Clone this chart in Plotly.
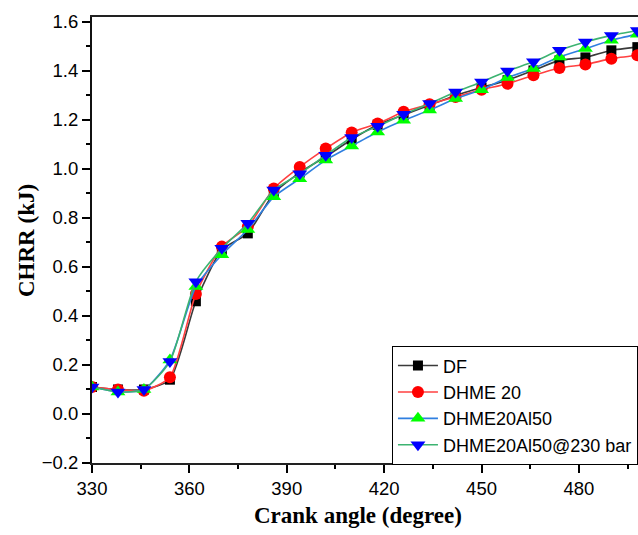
import plotly.graph_objects as go

crank_angle = [330, 338, 346, 354, 362, 370, 378, 386, 394, 402, 410, 418, 426,
               434, 442, 450, 458, 466, 474, 482, 490, 498]

df_chrr = [0.11, 0.10, 0.10, 0.14, 0.46, 0.67, 0.737, 0.90, 0.985, 1.05, 1.12, 1.18, 1.22,
           1.26, 1.30, 1.332, 1.362, 1.402, 1.443, 1.455, 1.484, 1.497]
dhme20_chrr = [0.11, 0.10, 0.095, 0.15, 0.49, 0.683, 0.764, 0.92, 1.008, 1.083, 1.149, 1.185, 1.233,
               1.264, 1.294, 1.323, 1.348, 1.382, 1.412, 1.426, 1.45, 1.464]
al50_chrr = [0.11, 0.09, 0.10, 0.22, 0.52, 0.65, 0.753, 0.886, 0.96, 1.036, 1.094, 1.151, 1.199,
             1.24, 1.287, 1.323, 1.373, 1.41, 1.457, 1.491, 1.525, 1.55]
al50_230_chrr = [0.11, 0.09, 0.10, 0.214, 0.54, 0.676, 0.778, 0.914, 0.98, 1.056, 1.128, 1.174, 1.223,
                 1.267, 1.314, 1.355, 1.40, 1.437, 1.484, 1.518, 1.545, 1.565]

series_names = ["DF", "DHME 20", "DHME20Al50", "DHME20Al50@230 bar"]

fig = go.Figure()
specs = [
    (df_chrr, "#3a3a3a", "#000000", "square", 10),
    (dhme20_chrr, "#ff4040", "#ff0000", "circle", 12),
    (al50_chrr, "#2f7fe0", "#00ff00", "triangle-up", 13),
    (al50_230_chrr, "#3cb371", "#0000ff", "triangle-down", 13),
]
for name, (vals, lc, mc, sym, ms) in zip(series_names, specs):
    fig.add_trace(go.Scatter(
        x=crank_angle, y=vals, name=name, mode="lines+markers",
        line=dict(color=lc, width=1.6, shape="spline", smoothing=0.6),
        marker=dict(color=mc, symbol=sym, size=ms, line=dict(width=0)),
    ))

tick_font = dict(family="Liberation Sans, Arial", size=18.5, color="#000")
fig.update_layout(
    width=638, height=535,
    margin=dict(l=92, r=0, t=17, b=72, autoexpand=False),
    paper_bgcolor="white", plot_bgcolor="white",
    font=tick_font,
    showlegend=True,
    legend=dict(
        x=0.549, y=0.262, xanchor="left", yanchor="top",
        bgcolor="white", bordercolor="#000", borderwidth=1.2,
        font=dict(family="Liberation Sans, Arial", size=18, color="#000"),
        itemwidth=40, tracegroupgap=0,
    ),
    xaxis=dict(
        range=[330, 498.2], tickmode="array", tickvals=[330, 360, 390, 420, 450, 480],
        ticks="outside", ticklen=8, tickwidth=1.6, tickcolor="#000",
        showline=True, linewidth=2, linecolor="#222", mirror=True,
        showgrid=False, zeroline=False, tickfont=tick_font,
        minor=dict(ticks="outside", ticklen=4, tickwidth=1.6, tickcolor="#000",
                   dtick=15, tick0=330, showgrid=False),
    ),
    yaxis=dict(
        range=[-0.2, 1.62], tickmode="array",
        tickvals=[-0.2, 0.0, 0.2, 0.4, 0.6, 0.8, 1.0, 1.2, 1.4, 1.6],
        ticktext=["\u22120.2", "0.0", "0.2", "0.4", "0.6", "0.8", "1.0", "1.2", "1.4", "1.6"],
        ticks="outside", ticklen=8, tickwidth=1.6, tickcolor="#000",
        showline=True, linewidth=2, linecolor="#111", mirror=False,
        showgrid=False, zeroline=False, tickfont=tick_font,
        minor=dict(ticks="outside", ticklen=4, tickwidth=1.6, tickcolor="#000",
                   dtick=0.1, tick0=-0.2, showgrid=False),
    ),
    annotations=[
        dict(text="<b>Crank angle (degree)</b>", xref="paper", yref="paper",
             x=0.487, y=-0.1166, xanchor="center", yanchor="middle", showarrow=False,
             font=dict(family="Liberation Serif, Times New Roman", size=23, color="#000")),
        dict(text="<b>CHRR (kJ)</b>", xref="paper", yref="paper",
             x=-0.1209, y=0.5, xanchor="center", yanchor="middle", showarrow=False,
             textangle=-90,
             font=dict(family="Liberation Serif, Times New Roman", size=23, color="#000")),
    ],
)

fig.write_html("out.html")
